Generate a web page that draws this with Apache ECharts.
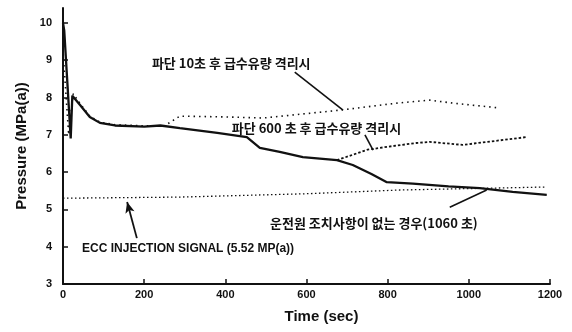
<!DOCTYPE html>
<html>
<head>
<meta charset="utf-8">
<script src="https://cdn.jsdelivr.net/npm/echarts@6/dist/echarts.min.js"></script>
<style>
  html, body { margin: 0; padding: 0; background: #fff; }
  #chart { width: 572px; height: 332px; }
</style>
</head>
<body>
<div id="chart"></div>
<script>
// values (time in sec, pressure in MPa(a))
const yTicks = [3, 4, 5, 6, 7, 8, 9, 10];

const noActionData = [
  [0, 10.0], [3, 9.8], [19, 6.9], [21, 6.85], [23, 8.05], [42, 7.8],
  [66, 7.48], [91, 7.32], [128, 7.25], [200, 7.22], [240, 7.25], [288, 7.18],
  [380, 7.05], [453, 6.94], [485, 6.65], [534, 6.54], [591, 6.4], [675, 6.32],
  [714, 6.19], [760, 5.95], [798, 5.73], [862, 5.69], [950, 5.62],
  [1027, 5.57], [1108, 5.47], [1192, 5.39]
];
// the isolation case traces the same spike before it leaves the base curve
const iso10Data = [
  [-4, 9.9], [14, 7.0], [18, 6.95], [25, 8.1], [42, 7.84], [66, 7.5],
  [91, 7.34], [128, 7.27], [200, 7.24], [250, 7.24], [288, 7.5], [400, 7.48],
  [493, 7.45], [682, 7.66], [823, 7.85], [904, 7.93], [960, 7.85], [1076, 7.72]
];
const iso600Data = [
  [675, 6.32], [750, 6.6], [800, 6.68], [870, 6.78], [904, 6.81],
  [985, 6.73], [1143, 6.94]
];
const eccData = [
  [0, 5.3], [288, 5.33], [600, 5.42], [830, 5.52], [1190, 5.6]
];

const ink = "#111";
const labelFont = {
  color: ink,
  fontWeight: "bold",
  fontFamily: "Noto Sans CJK KR",
  fontSize: 13
};
const latinBold = {
  color: ink,
  fontWeight: "bold",
  fontFamily: "Liberation Sans"
};

function note(coord, text, font) {
  return {
    coord: coord,
    symbolSize: 0,
    label: Object.assign(
      { show: true, position: "right", distance: 0, formatter: text },
      font || labelFont
    )
  };
}

function arrow(from, to) {
  return [{ coord: from }, { coord: to }];
}

const chart = echarts.init(document.getElementById("chart"));
const option = {
  animation: false,
  grid: { left: 63, right: 22, top: 8, bottom: 48 },
  xAxis: {
    type: "value",
    min: 0,
    max: 1200,
    interval: 200,
    name: "Time (sec)",
    nameLocation: "middle",
    nameGap: 25,
    nameTextStyle: Object.assign({ fontSize: 15, padding: [0, 0, 0, 30] }, latinBold),
    axisLine: { lineStyle: { color: ink, width: 2 } },
    axisTick: { inside: true, length: 5, lineStyle: { color: ink, width: 1.5 } },
    axisLabel: Object.assign(
      { fontSize: 11, margin: 5, formatter: v => String(v) },
      latinBold
    ),
    splitLine: { show: false }
  },
  yAxis: {
    type: "value",
    min: 3,
    max: 10.4,
    name: "Pressure (MPa(a))",
    nameLocation: "middle",
    nameGap: 34,
    nameTextStyle: Object.assign({ fontSize: 15 }, latinBold),
    axisLine: { show: true, lineStyle: { color: ink, width: 2 } },
    axisTick: {
      show: true,
      inside: true,
      length: 5,
      customValues: yTicks,
      lineStyle: { color: ink, width: 1.5 }
    },
    axisLabel: Object.assign({ fontSize: 11, margin: 11, customValues: yTicks }, latinBold),
    splitLine: { show: false }
  },
  series: [
    {
      name: "운전원 조치사항이 없는 경우",
      type: "line",
      data: noActionData,
      showSymbol: false,
      clip: false,
      lineStyle: { color: ink, width: 2.3 },
      markLine: {
        silent: true,
        symbol: ["none", "none"],
        lineStyle: { color: ink, width: 1.6, type: "solid" },
        label: { show: false },
        data: [arrow([953, 5.06], [1044, 5.52])]
      },
      markPoint: {
        silent: true,
        data: [note([510, 4.64], "운전원 조치사항이 없는 경우(1060 초)")]
      }
    },
    {
      name: "파단 10초 후 급수유량 격리시",
      type: "line",
      data: iso10Data,
      showSymbol: false,
      clip: false,
      lineStyle: { color: ink, width: 1.6, type: [1.5, 4] },
      markLine: {
        silent: true,
        symbol: ["none", "none"],
        lineStyle: { color: ink, width: 1.6, type: "solid" },
        label: { show: false },
        data: [arrow([571, 8.68], [690, 7.66])]
      },
      markPoint: {
        silent: true,
        data: [note([219, 8.92], "파단 10초 후 급수유량 격리시")]
      }
    },
    {
      name: "파단 600 초 후 급수유량 격리시",
      type: "line",
      data: iso600Data,
      showSymbol: false,
      lineStyle: { color: ink, width: 1.8, type: [2.5, 2] },
      markLine: {
        silent: true,
        symbol: ["none", "none"],
        lineStyle: { color: ink, width: 1.6, type: "solid" },
        label: { show: false },
        data: [arrow([744, 7.0], [764, 6.59])]
      },
      markPoint: {
        silent: true,
        data: [note([416, 7.18], "파단 600 초 후 급수유량 격리시")]
      }
    },
    {
      name: "ECC INJECTION SIGNAL",
      type: "line",
      data: eccData,
      showSymbol: false,
      lineStyle: { color: ink, width: 1.3, type: [1.5, 2.5] },
      markLine: {
        silent: true,
        symbol: ["none", "arrow"],
        symbolSize: [7, 11],
        lineStyle: { color: ink, width: 1.8, type: "solid" },
        label: { show: false },
        data: [arrow([182, 4.23], [158, 5.2])]
      },
      markPoint: {
        silent: true,
        data: [
          note([47, 3.94], "ECC INJECTION SIGNAL (5.52 MP(a))",
            Object.assign({ fontSize: 12 }, latinBold))
        ]
      }
    }
  ]
};
chart.setOption(option);
</script>
</body>
</html>
